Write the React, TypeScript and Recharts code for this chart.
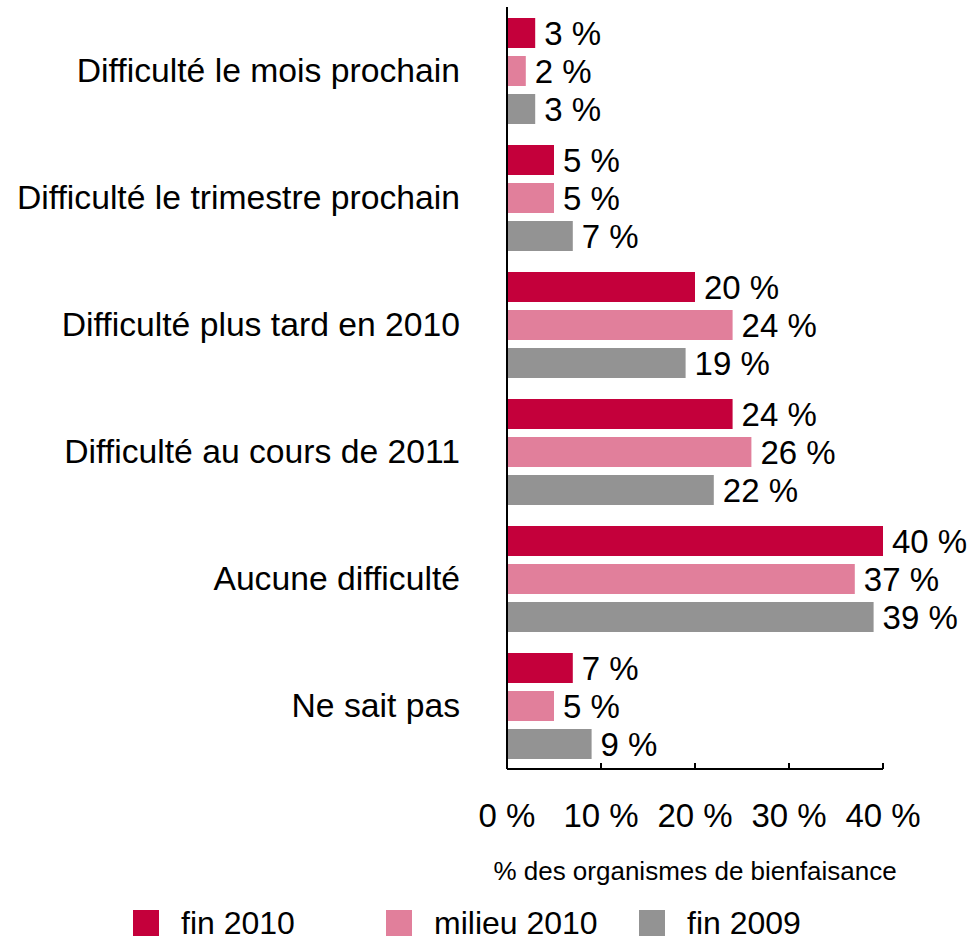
import { Bar, BarChart, LabelList, Label, Legend, XAxis, YAxis } from 'recharts';

const categories = [
  'Difficulté le mois prochain',
  'Difficulté le trimestre prochain',
  'Difficulté plus tard en 2010',
  'Difficulté au cours de 2011',
  'Aucune difficulté',
  'Ne sait pas',
];

const fin2010 = [3, 5, 20, 24, 40, 7];
const milieu2010 = [2, 5, 24, 26, 37, 5];
const fin2009 = [3, 7, 19, 22, 39, 9];

const xTicks = [0, 10, 20, 30, 40];

const series = [
  { key: 'fin2010', label: 'fin 2010', color: '#c4003b' },
  { key: 'milieu2010', label: 'milieu 2010', color: '#e17f9b' },
  { key: 'fin2009', label: 'fin 2009', color: '#939393' },
];

const data = categories.map((name, i) => ({
  name,
  fin2010: fin2010[i],
  milieu2010: milieu2010[i],
  fin2009: fin2009[i],
}));

const FONT = '"Liberation Sans", Arial, Helvetica, sans-serif';

// tick marks point up into the plot, labels sit well below the axis line
function XTick({ x, y, payload }: any) {
  return (
    <g>
      <line x1={x} x2={x} y1={y} y2={y - 6} stroke="#000" strokeWidth={2} />
      <text x={x} y={y + 58} textAnchor="middle" fontSize={33} fontFamily={FONT} fill="#000">
        {`${payload.value} %`}
      </text>
    </g>
  );
}

function LegendRow() {
  return (
    <div style={{ display: 'flex', paddingLeft: 133, fontFamily: FONT, fontSize: 32, lineHeight: '28px', color: '#000' }}>
      {series.map((s) => (
        <div key={s.key} style={{ flex: '0 0 253px', display: 'flex', alignItems: 'center', height: 28 }}>
          <span style={{ width: 26, height: 26, background: s.color, marginRight: 22, display: 'inline-block' }} />
          <span>{s.label}</span>
        </div>
      ))}
    </div>
  );
}

export default function App() {
  return (
    <div style={{ position: 'absolute', left: 0, top: 0, width: 976, height: 944, background: '#fff' }}>
      <BarChart
        width={976}
        height={944}
        data={data}
        layout="vertical"
        margin={{ top: 7, right: 93, bottom: 7, left: 0 }}
        barSize={30}
        barGap={8}
      >
        <XAxis
          type="number"
          domain={[0, 40]}
          ticks={xTicks}
          height={140}
          axisLine={{ stroke: '#000', strokeWidth: 2 }}
          tickLine={false}
          tickSize={0}
          tickMargin={0}
          tick={<XTick />}
          interval={0}
        >
          <Label
            value="% des organismes de bienfaisance"
            position="insideBottom"
            offset={29}
            style={{ fontSize: 26, fontFamily: FONT, fill: '#000' }}
          />
        </XAxis>
        <YAxis
          type="category"
          dataKey="name"
          width={507}
          axisLine={{ stroke: '#000', strokeWidth: 2 }}
          tickLine={false}
          tickSize={0}
          tickMargin={47}
          interval={0}
          tick={{ fontSize: 33.7, fontFamily: FONT, fill: '#000' }}
        />
        <Legend verticalAlign="bottom" height={28} content={() => <LegendRow />} />
        {series.map((s) => (
          <Bar key={s.key} dataKey={s.key} name={s.label} fill={s.color} isAnimationActive={false}>
            <LabelList
              dataKey={s.key}
              position="right"
              offset={9}
              formatter={(v: any) => `${v} %`}
              style={{ fontSize: 33, fontFamily: FONT, fill: '#000' }}
            />
          </Bar>
        ))}
      </BarChart>
    </div>
  );
}
